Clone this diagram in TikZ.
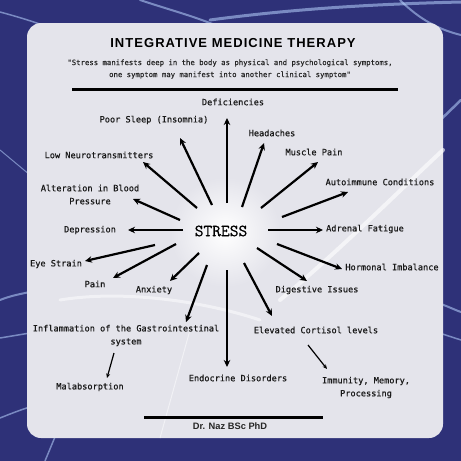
\documentclass[tikz,border=0pt]{standalone}
\usepackage{fontspec}
\setmainfont{Liberation Sans}
\newfontfamily\monof[FakeBold=0.6]{DejaVu Sans Mono}
\newfontfamily\quotef[FakeBold=0.3]{DejaVu Sans Mono}
\newfontfamily\titlef[LetterSpace=8]{Liberation Sans}
\newfontfamily\stressf[FakeBold=0.8]{Latin Modern Mono}
\usetikzlibrary{arrows.meta}
\definecolor{bgblue}{HTML}{2E3178}
\definecolor{panel}{HTML}{E4E4EB}
\definecolor{streak}{HTML}{B9D4FF}
\begin{document}
\begin{tikzpicture}[x=1pt,y=-1pt,
  lbl/.style={font=\monof\fontsize{8.6}{13}\selectfont, align=center, inner sep=0pt, text=black!90},
  arr/.style={line width=2.2pt, -{Stealth[length=7pt,width=6.5pt]}},
  tarr/.style={line width=1.2pt, -{Stealth[length=4.5pt,width=4pt]}},
  glow/.style={streak, line cap=round, opacity=.55},
  rule/.style={line width=3pt}]
\useasboundingbox (0,0) rectangle (461,461);
% background
\fill[bgblue] (0,0) rectangle (461,461);
\draw[glow, line width=3pt] (210,20) .. controls (300,8) and (380,4) .. (461,2);
\draw[glow, line width=1.5pt] (0,12) .. controls (30,20) and (60,30) .. (90,45);
\draw[glow, line width=2pt] (140,0) .. controls (170,10) and (190,15) .. (215,25);
\draw[glow, line width=2pt] (400,0) .. controls (420,20) and (440,30) .. (461,35);
\draw[glow, line width=2.5pt] (430,130) -- (461,100);
\draw[glow, line width=2pt] (430,300) .. controls (445,305) and (455,310) .. (461,312);
\draw[glow, line width=1.5pt] (430,330) -- (461,340);
\draw[glow, line width=2pt] (0,300) .. controls (10,296) and (20,294) .. (30,292);
\draw[glow, line width=1.5pt] (0,338) -- (30,333);
\draw[glow, line width=1.5pt] (0,418) .. controls (10,414) and (20,410) .. (30,407);
\draw[glow, line width=1.5pt] (45,461) -- (62,420);
\draw[glow, line width=1pt] (0,150) -- (30,175);
% panel
\fill[panel, rounded corners=14pt] (27,23) rectangle (443,438);
\shade[inner color=white, outer color=panel] (225,232) circle (55);
\draw[white, opacity=.6, line width=4pt, line cap=round] (280,300) .. controls (340,250) and (400,190) .. (443,150);
\draw[white, opacity=.5, line width=3pt, line cap=round] (60,300) .. controls (120,290) and (200,300) .. (260,320);
\draw[white, opacity=.5, line width=1pt] (190,330) -- (160,438);
% title
\node (title) at (233,43) {\titlef\bfseries\fontsize{13}{15}\selectfont INTEGRATIVE MEDICINE THERAPY};
\node[font=\quotef\fontsize{7.3}{12}\selectfont, align=center, inner sep=0pt, text=black!85] (quote) at (230,69)
  {"Stress manifests deep in the body as physical and psychological symptoms,\\one symptom may manifest into another clinical symptom"};
\coordinate (r1a) at (72,89); \coordinate (r1b) at (398,89);
\draw[rule] (r1a) -- (r1b);
% center
\node[font=\stressf\fontsize{17}{19}\selectfont, inner sep=0pt] (stress) at (221,231) {STRESS};
% labels
\node[lbl] (def) at (233,102) {Deficiencies};
\node[lbl] (sleep) at (154,120) {Poor Sleep (Insomnia)};
\node[lbl] (head) at (272,133) {Headaches};
\node[lbl] (muscle) at (314,152) {Muscle Pain};
\node[lbl] (neuro) at (99,155) {Low Neurotransmitters};
\node[lbl] (auto) at (380,182) {Autoimmune Conditions};
\node[lbl] (blood) at (90,194.5) {Alteration in Blood\\Pressure};
\node[lbl] (dep) at (90,230) {Depression};
\node[lbl] (adrenal) at (365,229) {Adrenal Fatigue};
\node[lbl] (eye) at (56,264) {Eye Strain};
\node[lbl] (horm) at (392,267) {Hormonal Imbalance};
\node[lbl] (pain) at (95,284) {Pain};
\node[lbl] (anx) at (154,290) {Anxiety};
\node[lbl] (dig) at (317,290) {Digestive Issues};
\node[lbl] (infl) at (126,335.5) {Inflammation of the Gastrointestinal\\system};
\node[lbl] (cort) at (316,330) {Elevated Cortisol levels};
\node[lbl] (malab) at (90,387) {Malabsorption};
\node[lbl] (endo) at (238,378) {Endocrine Disorders};
\node[lbl] (immun) at (366,387.5) {Immunity, Memory,\\Processing};
% arrow ends
\coordinate (sDef) at (227,203); \coordinate (tDef) at (227,118);
\coordinate (sSleep) at (212,205); \coordinate (tSleep) at (180,138);
\coordinate (sNeuro) at (197,208); \coordinate (tNeuro) at (143,162);
\coordinate (sBlood) at (180,220); \coordinate (tBlood) at (133,199);
\coordinate (sDep) at (183,230); \coordinate (tDep) at (128,230);
\coordinate (sHead) at (242,207); \coordinate (tHead) at (264,143);
\coordinate (sMuscle) at (261,208); \coordinate (tMuscle) at (318,162);
\coordinate (sAuto) at (282,217); \coordinate (tAuto) at (348,192);
\coordinate (sAdr) at (268,230); \coordinate (tAdr) at (323,230);
\coordinate (sEye) at (155,245); \coordinate (tEye) at (85,261);
\coordinate (sPain) at (176,244); \coordinate (tPain) at (113,278);
\coordinate (sAnx) at (199,253); \coordinate (tAnx) at (170,281);
\coordinate (sInfl) at (207,265); \coordinate (tInfl) at (186,322);
\coordinate (sEndo) at (227,270); \coordinate (tEndo) at (227,367);
\coordinate (sHorm) at (277,244); \coordinate (tHorm) at (342,269);
\coordinate (sDig) at (257,248); \coordinate (tDig) at (307,281);
\coordinate (sCort) at (244,263); \coordinate (tCort) at (272,316);
\coordinate (sMal) at (114,353); \coordinate (tMal) at (107,378);
\coordinate (sImm) at (308,345); \coordinate (tImm) at (327,369);
\foreach \n in {Def,Sleep,Neuro,Blood,Dep,Head,Muscle,Auto,Adr,Eye,Pain,Anx,Infl,Endo,Horm,Dig,Cort}
  \draw[arr] (s\n) -- (t\n);
\draw[tarr] (sMal) -- (tMal);
\draw[tarr] (sImm) -- (tImm);
% footer
\coordinate (r2a) at (144,417); \coordinate (r2b) at (323,417);
\draw[rule] (r2a) -- (r2b);
\node[font=\bfseries\fontsize{9.3}{11}\selectfont, inner sep=0pt, text=black!85] (sig) at (230,426) {Dr. Naz BSc PhD};
\end{tikzpicture}
\end{document}
